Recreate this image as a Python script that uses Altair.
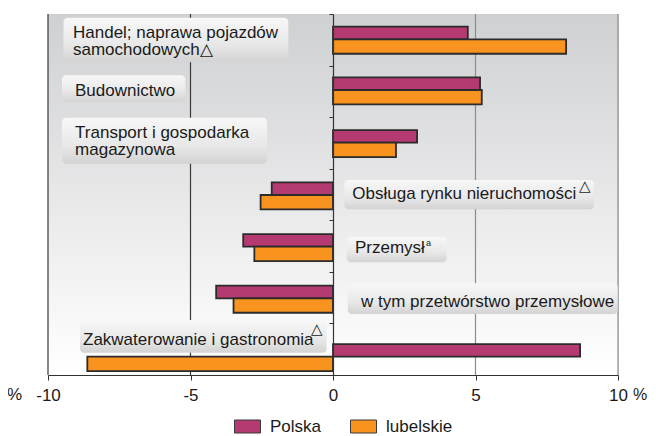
import altair as alt
import pandas as pd

# ---------------- data ----------------
categories = [
    "Handel; naprawa pojazdów samochodowych",
    "Budownictwo",
    "Transport i gospodarka magazynowa",
    "Obsługa rynku nieruchomości",
    "Przemysł",
    "w tym przetwórstwo przemysłowe",
    "Zakwaterowanie i gastronomia",
]
polska = [4.73, 5.16, 2.95, -2.15, -3.15, -4.10, 8.67]
lubelskie = [8.18, 5.22, 2.21, -2.54, -2.76, -3.49, -8.62]
series = ["Polska", "lubelskie"]
x_ticks = [-10, -5, 0, 5, 10]
grid_values = [-10, -5, 5, 10]
label_lines = [
    ["Handel; naprawa pojazdów", "samochodowych△"],
    ["Budownictwo"],
    ["Transport i gospodarka", "magazynowa"],
    ["Obsługa rynku nieruchomości"],
    ["Przemysł"],
    ["w tym przetwórstwo przemysłowe"],
    ["Zakwaterowanie i gastronomia"],
]
sup_marks = ["△", "a", "△"]

# ---------------- layout / style ----------------
colors = ["#b53a71", "#f7931e"]
W, H = 570, 361
FONT = "Liberation Sans"
bar_mid = [0.491, 0.474, 0.496, 0.51, 0.512, 0.513, 0.645]
h_pol, h_lub = 0.245, 0.28
# label boxes: x0, x1 (data units), y0, y1 (row units)
box_x0 = [-9.456, -9.509, -9.509, 0.396, 0.481, 0.516, -8.877]
box_x1 = [-1.568, -5.182, -2.316, 9.158, 3.989, 9.989, -0.221]
box_y0 = [0.072, 1.189, 2.011, 3.219, 4.318, 5.222, 5.934]
box_y1 = [0.937, 1.700, 2.903, 3.787, 4.815, 5.817, 6.568]
txt_x = [-9.123, -9.053, -9.05, 0.677, 0.772, 0.982, -8.772]
txt_y = [0.46, 1.59, 2.395, 3.593, 4.64, 5.676, 6.418]
sup_x = [8.645, 3.263, -0.772]
sup_y = [3.425, 4.50, 6.20]
sup_size = [15, 9, 15]

# ---------------- tables ----------------
rows = []
for i, c in enumerate(categories):
    m = i + bar_mid[i]
    rows.append(dict(cat=c, series="Polska", value=polska[i], zero=0, y0=m - h_pol, y1=m))
    rows.append(dict(cat=c, series="lubelskie", value=lubelskie[i], zero=0, y0=m, y1=m + h_lub))
bars_df = pd.DataFrame(rows)

labels_df = pd.DataFrame(dict(lines=label_lines, bx0=box_x0, bx1=box_x1, by0=box_y0,
                              by1=box_y1, tx=txt_x, ty=txt_y))
sup_df = pd.DataFrame(dict(t=sup_marks, x=sup_x, y=sup_y, s=sup_size))
grid_df = pd.DataFrame(dict(v=grid_values, a=[0] * len(grid_values), b=[7] * len(grid_values)))
bg_df = pd.DataFrame(dict(x0=[min(x_ticks)], x1=[max(x_ticks)], y0=[0], y1=[len(categories)]))
pct_df = pd.DataFrame(dict(x=[min(x_ticks)], y=[len(categories)]))
pct_df2 = pd.DataFrame(dict(x=[max(x_ticks)], y=[len(categories)]))

xs = alt.Scale(domain=[min(x_ticks), max(x_ticks)], nice=False, zero=False)
ys = alt.Scale(domain=[0, len(categories)], reverse=True, nice=False, zero=False)
zero_offset = -W * (0 - min(x_ticks)) / (max(x_ticks) - min(x_ticks))

x_axis = alt.Axis(values=x_ticks, grid=False, labelExpr="'' + datum.value",
                  labelFont=FONT, labelFontSize=17, labelColor="#1a1a1a",
                  labelPadding=7, tickSize=5, tickColor="#333", domainColor="#333",
                  domainWidth=1.2, tickWidth=1, title=None, labelFlush=False,
                  labelOverlap=False)
y_axis = alt.Axis(values=list(range(len(categories) + 1)), orient="left",
                  offset=zero_offset, labels=False, grid=False, tickSize=4,
                  tickColor="#333", domainColor="#333", domainWidth=1.2, zindex=1,
                  title=None)


def X(field):
    return alt.X(field, type="quantitative", scale=xs, axis=x_axis, title=None, stack=None)


def Y(field):
    return alt.Y(field, type="quantitative", scale=ys, axis=y_axis, title=None, stack=None)


bg = alt.Chart(bg_df).mark_rect(
    fill=alt.Gradient(gradient="linear", x1=0, x2=0, y1=0, y2=1,
                      stops=[alt.GradientStop(offset=0, color="#cfd0d2"),
                             alt.GradientStop(offset=1, color="#ffffff")])
).encode(x=X("x0"), x2="x1:Q", y=Y("y0"), y2="y1:Q")

grid = alt.Chart(grid_df).mark_rule(strokeWidth=1.2).encode(
    x=X("v"), y=Y("a"), y2="b:Q",
    color=alt.condition("datum.v < 0", alt.value("#3a3a3a"), alt.value("#8c8c8c")),
)

bars = alt.Chart(bars_df).mark_rect(stroke="#2b2b2b", strokeWidth=1.8).encode(
    x=X("zero"), x2="value:Q", y=Y("y0"), y2="y1:Q",
    fill=alt.Fill("series:N", scale=alt.Scale(domain=series, range=colors),
                  legend=alt.Legend(orient="none", legendX=186, legendY=399,
                                    direction="horizontal", title=None, padding=0,
                                    symbolType="M-1,-0.5H1V0.5H-1Z", symbolSize=676,
                                    symbolStrokeColor="#3a3a3a", symbolStrokeWidth=1,
                                    labelFont=FONT, labelFontSize=17, labelColor="#1a1a1a",
                                    labelOffset=9, columnPadding=26)),
    detail="cat:N",
)

boxes = alt.Chart(labels_df).mark_rect(
    cornerRadius=4,
    fill=alt.Gradient(gradient="linear", x1=0, x2=0, y1=0, y2=1,
                      stops=[alt.GradientStop(offset=0, color="#f7f7f7"),
                             alt.GradientStop(offset=0.6, color="#e8e8e8"),
                             alt.GradientStop(offset=1, color="#d3d3d3")]),
).encode(x=X("bx0"), x2="bx1:Q", y=Y("by0"), y2="by1:Q")

texts = alt.Chart(labels_df).mark_text(
    align="left", baseline="alphabetic", font=FONT, fontSize=17, lineHeight=17.5,
    color="#1a1a1a",
).encode(x=X("tx"), y=Y("ty"), text="lines")

sups = alt.Chart(sup_df).mark_text(
    align="left", baseline="alphabetic", font=FONT, color="#1a1a1a",
).encode(
    x=X("x"), y=Y("y"), text="t:N",
    size=alt.Size("s:Q", scale=None, legend=None),
)

pct_left = alt.Chart(pct_df).mark_text(
    text="%", align="right", baseline="alphabetic", dx=-26, dy=25,
    font=FONT, fontSize=17, color="#1a1a1a",
).encode(x=X("x"), y=Y("y"))
pct_right = alt.Chart(pct_df2).mark_text(
    text="%", align="left", baseline="alphabetic", dx=15, dy=25,
    font=FONT, fontSize=16, color="#1a1a1a",
).encode(x=X("x"), y=Y("y"))

chart = alt.layer(bg, grid, bars, boxes, texts, sups, pct_left, pct_right).properties(
    width=W, height=H,
    autosize=alt.AutoSizeParams(type="none"),
    padding={"left": 40, "top": 6, "right": 30, "bottom": 61},
).configure_view(stroke=None).configure(background="#ffffff")

chart.save("out.html", embed_options={"renderer": "svg", "actions": False})
